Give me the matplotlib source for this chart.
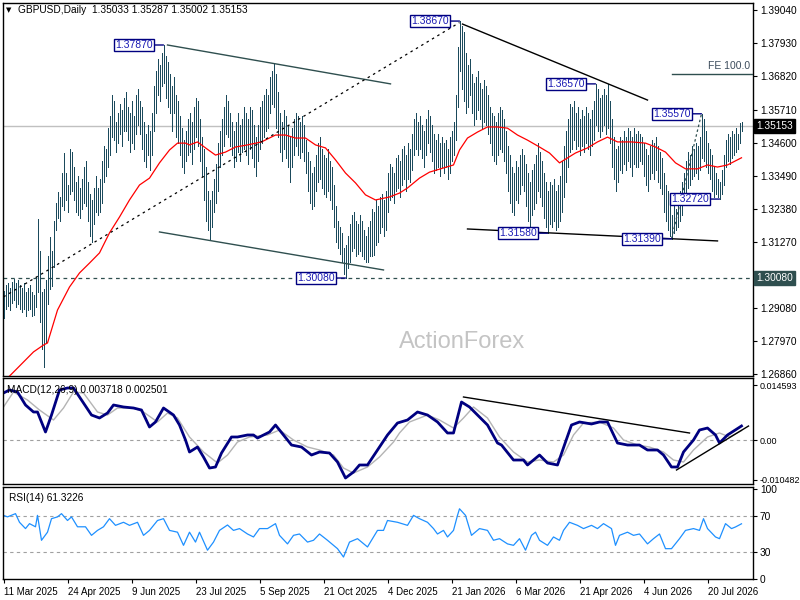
import matplotlib
matplotlib.use("Agg")
import matplotlib.pyplot as plt
import matplotlib.transforms as mtransforms
import numpy as np

plt.rcParams['font.family'] = ['Liberation Sans', 'DejaVu Sans']

title = "GBPUSD,Daily  1.35033 1.35287 1.35002 1.35153"
macd_title = "MACD(12,26,9) 0.003718 0.002501"
rsi_title = "RSI(14) 61.3226"
last_price = 1.35153
support_level = 1.30080
fe_level = 1.36900

date_ticks = [0, 32, 64, 96, 128, 160, 192, 224, 256, 288, 320, 352]
date_labels = ["11 Mar 2025", "24 Apr 2025", "9 Jun 2025", "23 Jul 2025", "5 Sep 2025",
               "21 Oct 2025", "4 Dec 2025", "21 Jan 2026", "6 Mar 2026", "21 Apr 2026",
               "4 Jun 2026", "20 Jul 2026"]

price_ticks = [1.39040, 1.37930, 1.36820, 1.35710, 1.34600, 1.33490, 1.32380,
               1.31270, 1.29080, 1.27970, 1.26860]

# daily highs / lows in pips (price * 10000), one per bar
highs_pips = [
    12965, 12985, 12990, 12975, 12995, 13005, 12990, 13000, 12985, 12975,
    12990, 12960, 12975, 12985, 12960, 12950, 13010, 13205, 13100, 12960,
    12970, 13000, 13080, 13145, 13100, 13200, 13260, 13295, 13280, 13360,
    13425, 13360, 13320, 13440, 13430, 13380, 13330, 13350, 13310, 13340,
    13380, 13400, 13330, 13290, 13270, 13310, 13350, 13310, 13340, 13400,
    13450, 13440, 13510, 13550, 13620, 13600, 13530, 13560, 13590, 13570,
    13610, 13630, 13580, 13560, 13600, 13550, 13620, 13640, 13600, 13580,
    13530, 13490, 13520, 13500, 13560, 13650, 13700, 13740, 13720, 13760,
    13787, 13750, 13730, 13690, 13650, 13680, 13620, 13600, 13550, 13510,
    13470, 13500, 13540, 13560, 13530, 13580, 13610, 13600, 13540, 13480,
    13440, 13380, 13300, 13270, 13300, 13340, 13390, 13460, 13500, 13540,
    13580, 13620, 13600, 13560, 13530, 13500, 13530, 13560, 13520, 13540,
    13580, 13560, 13540, 13580, 13570, 13520, 13480, 13520, 13580, 13600,
    13620, 13640, 13620, 13680, 13700, 13727, 13690, 13630, 13560, 13530,
    13570, 13550, 13520, 13480, 13510, 13540, 13560, 13550, 13530, 13550,
    13520, 13470, 13430, 13400, 13360, 13380, 13420, 13460, 13480, 13440,
    13420, 13410, 13440, 13400, 13380, 13320, 13250, 13200, 13180, 13160,
    13110, 13120, 13150, 13190, 13220, 13230, 13200, 13190, 13220, 13200,
    13170, 13150, 13180, 13200, 13240, 13230, 13270, 13250, 13280, 13290,
    13270, 13300, 13360, 13390, 13380, 13360, 13410, 13420, 13400, 13440,
    13450, 13420, 13460, 13440, 13490, 13540, 13560, 13530, 13550, 13520,
    13500, 13540, 13570, 13550, 13520, 13490, 13470, 13490, 13460, 13480,
    13460, 13470, 13440, 13480, 13500, 13530, 13620, 13780, 13867, 13850,
    13830, 13760, 13720, 13740, 13690, 13660, 13680, 13700, 13660, 13640,
    13670, 13650, 13620, 13580, 13560, 13550, 13530, 13560, 13580, 13570,
    13540, 13500, 13450, 13420, 13380, 13360, 13400, 13380, 13420, 13440,
    13420, 13390, 13360, 13330, 13370, 13390, 13420, 13460, 13430, 13400,
    13360, 13330, 13300, 13330, 13320, 13340, 13300, 13320, 13350, 13400,
    13450, 13500, 13540, 13590, 13580, 13600, 13560, 13580, 13540, 13570,
    13550, 13580, 13560, 13540, 13570, 13600, 13657, 13640, 13610, 13620,
    13640, 13620, 13655, 13600, 13540, 13480, 13440, 13450, 13480, 13470,
    13500, 13480, 13510, 13500, 13480, 13510, 13490, 13500, 13490, 13480,
    13460, 13440, 13420, 13450, 13470, 13460, 13480, 13450, 13430, 13410,
    13360, 13320, 13300, 13250, 13220, 13260, 13240, 13270, 13300, 13330,
    13360, 13400, 13430, 13420, 13450, 13440, 13460, 13450, 13480, 13557,
    13540, 13500, 13460, 13440, 13420, 13380, 13360, 13340, 13330, 13370,
    13420, 13470, 13490, 13480, 13500, 13490, 13510, 13490, 13525, 13529,
]
lows_pips = [
    12875, 12905, 12915, 12900, 12925, 12935, 12910, 12920, 12905, 12895,
    12905, 12880, 12900, 12905, 12880, 12885, 12910, 12960, 12860, 12770,
    12710, 12790, 12920, 12970, 12980, 13045, 13170, 13210, 13200, 13250,
    13235, 13270, 13230, 13290, 13300, 13270, 13230, 13220, 13210, 13240,
    13260, 13250, 13200, 13150, 13130, 13190, 13230, 13220, 13230, 13260,
    13330, 13350, 13380, 13420, 13480, 13470, 13430, 13460, 13490, 13450,
    13500, 13500, 13470, 13430, 13460, 13440, 13490, 13520, 13490, 13440,
    13400, 13380, 13420, 13370, 13420, 13500, 13560, 13620, 13600, 13650,
    13660, 13610, 13580, 13560, 13500, 13560, 13480, 13460, 13420, 13380,
    13360, 13400, 13420, 13430, 13390, 13440, 13480, 13450, 13400, 13350,
    13270, 13200, 13170, 13135, 13180, 13230, 13260, 13300, 13380, 13420,
    13450, 13490, 13480, 13450, 13420, 13380, 13400, 13430, 13400, 13430,
    13440, 13420, 13390, 13440, 13410, 13380, 13350, 13400, 13440, 13460,
    13480, 13500, 13510, 13560, 13590, 13580, 13510, 13480, 13430, 13400,
    13440, 13410, 13380, 13330, 13380, 13420, 13450, 13420, 13410, 13430,
    13400, 13360, 13300, 13260, 13240, 13250, 13300, 13330, 13340, 13310,
    13290, 13280, 13300, 13270, 13240, 13180, 13130, 13110, 13090, 13060,
    13020, 13008, 13040, 13060, 13100, 13110, 13080, 13090, 13100, 13080,
    13070, 13060, 13060, 13080, 13080, 13085, 13120, 13130, 13160, 13180,
    13150, 13170, 13230, 13270, 13280, 13260, 13300, 13310, 13280, 13320,
    13340, 13300, 13340, 13330, 13370, 13420, 13440, 13420, 13440, 13410,
    13380, 13420, 13460, 13430, 13400, 13360, 13370, 13380, 13350, 13380,
    13360, 13380, 13340, 13360, 13400, 13420, 13470, 13580, 13700, 13640,
    13600, 13560, 13580, 13620, 13560, 13520, 13540, 13570, 13540, 13510,
    13530, 13520, 13490, 13460, 13420, 13400, 13390, 13420, 13440, 13430,
    13400, 13360, 13300, 13260, 13230, 13220, 13270, 13260, 13290, 13320,
    13300, 13250, 13200, 13180, 13220, 13240, 13260, 13300, 13280, 13250,
    13210, 13180, 13158, 13190, 13180, 13200, 13170, 13180, 13200, 13230,
    13280, 13330, 13380, 13430, 13440, 13470, 13440, 13450, 13420, 13450,
    13430, 13460, 13440, 13420, 13450, 13470, 13520, 13500, 13480, 13500,
    13520, 13490, 13510, 13460, 13380, 13340, 13300, 13330, 13370, 13360,
    13390, 13370, 13400, 13380, 13350, 13390, 13380, 13380, 13400, 13390,
    13350, 13320, 13300, 13340, 13360, 13340, 13370, 13330, 13310, 13290,
    13230, 13200, 13170, 13150, 13139, 13160, 13170, 13180, 13200, 13220,
    13260, 13290, 13310, 13320, 13340, 13350, 13360, 13340, 13370, 13410,
    13400, 13380, 13360, 13340, 13300, 13280, 13290, 13280, 13272, 13290,
    13320, 13380, 13400, 13390, 13410, 13420, 13430, 13440, 13460, 13500,
]

# red moving average, read at sample bars
ma_bars = [0, 7, 15, 20, 22, 27, 33, 38, 43, 48, 53, 58, 63, 68, 73, 78, 83, 87, 91, 93,
           97, 101, 106, 111, 116, 122, 129, 136, 141, 146, 151, 156, 161, 166, 171, 176,
           181, 186, 193, 198, 202, 208, 213, 220, 225, 228, 232, 237, 242, 247, 252, 257,
           262, 268, 273, 278, 286, 292, 297, 302, 307, 314, 321, 326, 331, 336, 341, 347,
           352, 357, 362, 369]
ma_vals = [1.2660, 1.2707, 1.2761, 1.2784, 1.2791, 1.2901, 1.2978, 1.3025, 1.3058, 1.3092,
           1.3159, 1.3212, 1.3269, 1.3319, 1.3342, 1.3393, 1.3436, 1.3459, 1.3459, 1.3453,
           1.3463, 1.3443, 1.3419, 1.3429, 1.3446, 1.3453, 1.3463, 1.3486, 1.3486, 1.3476,
           1.3476, 1.3453, 1.3443, 1.3403, 1.3359, 1.3326, 1.3286, 1.3269, 1.3279, 1.3292,
           1.3309, 1.3342, 1.3362, 1.3376, 1.3386, 1.3436, 1.3476, 1.3496, 1.3513, 1.3513,
           1.3509, 1.3486, 1.3469, 1.3446, 1.3426, 1.3393, 1.3426, 1.3443, 1.3463, 1.3479,
           1.3463, 1.3463, 1.3459, 1.3446, 1.3429, 1.3393, 1.3373, 1.3373, 1.3386, 1.3379,
           1.3386, 1.3410]

macd_bars = [0, 3, 7, 11, 15, 17, 21, 24, 28, 32, 35, 38, 44, 48, 52, 55, 60, 65, 69, 73,
             76, 80, 85, 88, 91, 93, 97, 100, 103, 106, 109, 114, 117, 122, 125, 127, 133,
             136, 140, 144, 149, 154, 158, 163, 167, 171, 175, 178, 182, 186, 192, 197, 202,
             207, 212, 217, 222, 225, 229, 233, 237, 242, 247, 249, 255, 260, 262, 268, 272,
             277, 281, 284, 288, 294, 298, 302, 307, 312, 318, 322, 327, 330, 334, 337, 340,
             345, 348, 352, 356, 358, 362, 369]
macd_vals = [0.01247, 0.01327, 0.01274, 0.00929, 0.00743, 0.00743, 0.00212, 0.00663,
             0.01327, 0.01380, 0.01380, 0.01141, 0.00663, 0.00584, 0.00716, 0.00929,
             0.00876, 0.00849, 0.00796, 0.00345, 0.00478, 0.00849, 0.00663, 0.00398,
             0.00000, -0.00318, -0.00186, -0.00451, -0.00743, -0.00716, -0.00345, 0.00080,
             0.00080, 0.00133, 0.00133, 0.00053, 0.00212, 0.00398, 0.00133, -0.00133,
             -0.00186, -0.00398, -0.00318, -0.00345, -0.00584, -0.01008, -0.00849, -0.00663,
             -0.00663, -0.00345, 0.00133, 0.00451, 0.00531, 0.00743, 0.00663, 0.00478,
             0.00186, 0.00186, 0.01008, 0.00876, 0.00663, 0.00398, -0.00080, -0.00133,
             -0.00531, -0.00531, -0.00663, -0.00398, -0.00610, -0.00663, -0.00053, 0.00398,
             0.00478, 0.00425, 0.00478, 0.00478, -0.00080, -0.00133, -0.00133, -0.00265,
             -0.00265, -0.00398, -0.00716, -0.00716, -0.00318, 0.00000, 0.00265, 0.00318,
             0.00133, -0.00080, 0.00133, 0.00372]

signal_bars = [0, 5, 12, 18, 25, 30, 35, 40, 47, 52, 57, 65, 70, 77, 82, 87, 93, 100, 107,
               112, 117, 123, 132, 138, 145, 152, 158, 165, 170, 175, 182, 188, 195, 198,
               203, 212, 218, 225, 230, 235, 242, 248, 255, 262, 268, 275, 280, 285, 290,
               298, 305, 310, 317, 323, 330, 335, 340, 345, 352, 358, 363, 369]
signal_vals = [0.00876, 0.01274, 0.01061, 0.00796, 0.00531, 0.00849, 0.01274, 0.01247,
               0.00743, 0.00663, 0.00849, 0.00849, 0.00743, 0.00478, 0.00716, 0.00584,
               0.00080, -0.00318, -0.00610, -0.00398, -0.00053, 0.00080, 0.00133, 0.00265,
               0.00000, -0.00186, -0.00265, -0.00398, -0.00743, -0.00876, -0.00716, -0.00451,
               -0.00053, 0.00186, 0.00478, 0.00663, 0.00531, 0.00318, 0.00584, 0.00876,
               0.00584, 0.00080, -0.00318, -0.00584, -0.00531, -0.00584, -0.00398, 0.00133,
               0.00451, 0.00478, 0.00318, 0.00000, -0.00133, -0.00186, -0.00318, -0.00531,
               -0.00584, -0.00265, 0.00080, 0.00186, 0.00080, 0.00250]

rsi_bars = [0, 2, 6, 8, 11, 13, 16, 17, 19, 22, 24, 27, 29, 32, 34, 37, 41, 44, 47, 50,
            53, 56, 60, 63, 67, 70, 73, 77, 80, 83, 87, 90, 93, 96, 98, 102, 105, 108, 112,
            115, 118, 122, 125, 128, 132, 136, 138, 142, 145, 148, 152, 155, 158, 162, 167,
            170, 173, 177, 182, 184, 187, 190, 192, 197, 202, 205, 208, 212, 215, 217, 220,
            222, 225, 227, 228, 231, 234, 238, 242, 245, 248, 252, 255, 258, 261, 264, 266,
            268, 272, 275, 278, 280, 283, 287, 290, 294, 297, 300, 304, 306, 308, 312, 315,
            318, 322, 325, 328, 331, 334, 338, 341, 345, 348, 350, 352, 356, 358, 361, 364,
            366, 369]
rsi_vals = [70.7, 69.0, 72.6, 63.0, 56.0, 61.5, 58.0, 70.7, 43.0, 52.0, 67.0, 69.0, 72.6,
            65.0, 69.0, 58.0, 58.0, 48.5, 54.0, 58.0, 67.0, 59.6, 63.0, 59.6, 63.0, 48.5,
            54.0, 65.0, 67.0, 54.0, 52.0, 37.4, 52.0, 41.0, 52.0, 32.0, 41.0, 54.0, 60.0,
            54.0, 56.0, 50.0, 46.7, 56.0, 56.0, 61.5, 48.5, 39.0, 48.5, 50.0, 41.0, 43.0,
            50.0, 43.0, 33.7, 24.4, 41.0, 44.8, 35.6, 43.0, 54.0, 54.0, 65.0, 63.0, 59.6,
            70.7, 67.0, 63.0, 56.0, 50.0, 54.0, 46.7, 54.0, 70.7, 78.0, 70.7, 48.5, 56.0,
            54.0, 43.0, 44.8, 39.0, 37.4, 44.8, 32.0, 48.5, 52.0, 43.0, 37.4, 46.7, 43.0,
            54.0, 63.0, 59.6, 56.0, 59.6, 56.0, 61.5, 56.0, 37.4, 48.5, 52.0, 48.5, 50.0,
            39.0, 44.8, 50.0, 33.7, 33.7, 44.8, 54.0, 56.0, 54.0, 67.0, 56.0, 46.7, 44.8,
            61.5, 56.0, 57.8, 61.3226]

# swing labels: bar, price
label_bars = [80, 228, 296, 349, 358, 272, 334, 171]
label_prices = [1.37870, 1.38670, 1.36570, 1.35570, 1.32720, 1.31580, 1.31390, 1.30080]

# drawn trend lines: (bar0, price0, bar1, price1)
channel_lines = [(82, 1.3787, 193.5, 1.3657), (78, 1.3162, 190, 1.3035)]
black_lines = [(229.5, 1.3857, 322, 1.3603), (232, 1.3172, 357, 1.3132)]
dotted_lines = [(0, 1.2945, 228, 1.3862), (334, 1.3139, 349, 1.3557)]
macd_lines = [(230, 0.01141, 343, 0.00186), (336.5, -0.00796, 372.5, 0.00371)]

BAR = '#1b4a5c'
SLATE = '#2f4f4f'
NAVY = '#000080'
LBL = '#1a1ab4'

fig = plt.figure(figsize=(8, 6), dpi=100)


def rect(top, bottom):
    return [2.5 / 800, 1 - bottom / 600, 750.5 / 800, (bottom - top) / 600]


ax = fig.add_axes(rect(3, 376))
ax_macd = fig.add_axes(rect(378, 484))
ax_rsi = fig.add_axes(rect(487, 579))

highs = np.array(highs_pips) / 1e4
lows = np.array(lows_pips) / 1e4
bars = np.arange(len(highs))

for a in (ax, ax_macd, ax_rsi):
    a.set_xlim(-0.5, 374.75)
    a.yaxis.tick_right()
    a.tick_params(axis='y', labelsize=7.3, length=3, pad=2, width=0.8)
    for s in a.spines.values():
        s.set_linewidth(1)
    a.set_xticks([])

# main panel
ax.set_ylim(1.26805, 1.39274)
ax.axhline(last_price, color='#c0c0c0', lw=1, zorder=1)
ax.axhline(support_level, color=SLATE, lw=0.9, ls=(0, (3, 3)), zorder=1)
ax.vlines(bars, lows, highs, color=BAR, lw=0.5, antialiased=False, zorder=3)
ax.plot(ma_bars, ma_vals, color='red', lw=0.9, zorder=4)

for b0, p0, b1, p1 in channel_lines:
    ax.plot([b0, b1], [p0, p1], color=SLATE, lw=1, zorder=5)
for b0, p0, b1, p1 in black_lines:
    ax.plot([b0, b1], [p0, p1], color='black', lw=1, zorder=5)
ax.plot(*zip(dotted_lines[0][:2], dotted_lines[0][2:]), color='black', lw=0.9,
        ls=(0, (2, 3)), zorder=5)
ax.plot(*zip(dotted_lines[1][:2], dotted_lines[1][2:]), color=SLATE, lw=0.9,
        ls=(0, (2, 2)), zorder=5)

ax.plot([334, 374.75], [fe_level, fe_level], color=SLATE, lw=1, zorder=5)
ax.text(373.5, fe_level + 0.0009, "FE 100.0", ha='right', va='bottom', fontsize=7.5,
        color='#3c4c5c')

for b, p in zip(label_bars, label_prices):
    ax.annotate(f"{p:.5f}", xy=(b, p), xytext=(-11, 0), textcoords='offset pixels',
                ha='right', va='center', fontsize=7.5, color=LBL, zorder=6,
                bbox=dict(boxstyle='square,pad=0.12', fc='white', ec=NAVY, lw=1),
                arrowprops=dict(arrowstyle='-', color=NAVY, lw=1, shrinkA=0, shrinkB=0))

ax.set_yticks(price_ticks)
ax.set_yticklabels([f"{t:.5f}" for t in price_ticks])

tr = mtransforms.blended_transform_factory(ax.transAxes, ax.transData)
ax.text(1.004, last_price, f"{last_price:.5f}", transform=tr, ha='left', va='center',
        fontsize=7.3, color='white', clip_on=False,
        bbox=dict(boxstyle='square,pad=0.2', fc='black', ec='black'))
ax.text(1.004, support_level, f"{support_level:.5f}", transform=tr, ha='left', va='center',
        fontsize=7.3, color='white', clip_on=False,
        bbox=dict(boxstyle='square,pad=0.2', fc='#2f4f4f', ec='#2f4f4f'))

ax.text(0.612, 0.091, "ActionForex", transform=ax.transAxes, ha='center', va='center',
        fontsize=17, color='#c4c4c4', zorder=2)

fig.text(6 / 800, 1 - 10 / 600, "\u25bc", fontsize=5, va='center', ha='left',
         family='DejaVu Sans')
fig.text(18 / 800, 1 - 10 / 600, title, fontsize=7.3, va='center', ha='left')

# MACD panel
ax_macd.set_ylim(-0.01167, 0.01645)
ax_macd.axhline(0, color='#a0a0a0', lw=0.8, ls=(0, (3, 3)))
ax_macd.plot(signal_bars, signal_vals, color='#b4b4b4', lw=1)
ax_macd.plot(macd_bars, macd_vals, color=NAVY, lw=2)
for b0, v0, b1, v1 in macd_lines:
    ax_macd.plot([b0, b1], [v0, v1], color='black', lw=1)
ax_macd.set_yticks([0.014593, 0.0, -0.010482])
ax_macd.set_yticklabels(["0.014593", "0.00", "-0.010482"])
ax_macd.tick_params(axis='y', labelsize=6.5, pad=1.5)
ax_macd.text(0.006, 0.93, macd_title, transform=ax_macd.transAxes, fontsize=7.3,
             va='top', ha='left')

# RSI panel
ax_rsi.set_ylim(0, 102.2)
ax_rsi.axhline(70, color='#a0a0a0', lw=0.8, ls=(0, (3, 3)))
ax_rsi.axhline(30, color='#a0a0a0', lw=0.8, ls=(0, (3, 3)))
ax_rsi.plot(rsi_bars, rsi_vals, color='#1e90ff', lw=0.9)
ax_rsi.set_yticks([100, 70, 30, 0])
ax_rsi.set_yticklabels(["100", "70", "30", "0"])
ax_rsi.text(0.008, 0.93, rsi_title, transform=ax_rsi.transAxes, fontsize=7.3,
            va='top', ha='left')
ax_rsi.set_xticks(date_ticks)
ax_rsi.set_xticklabels(date_labels, ha='left', fontsize=7.0)
ax_rsi.tick_params(axis='x', length=3, pad=3, width=0.8)

fig.savefig("out.png", dpi=100, facecolor='white')
